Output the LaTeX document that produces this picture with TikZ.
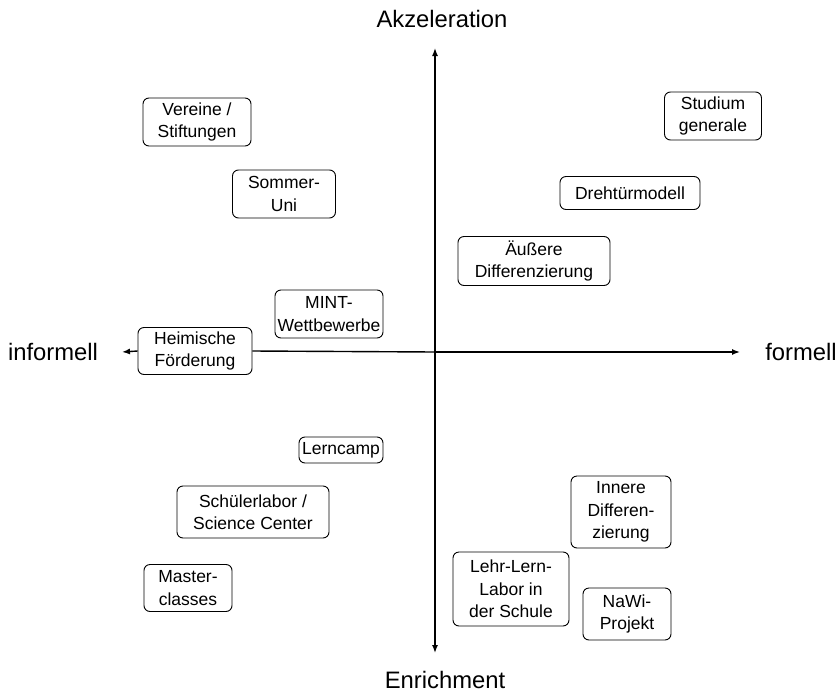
\documentclass[tikz,border=0pt]{standalone}
\usepackage{fontspec}
\setmainfont{Liberation Sans}
\usetikzlibrary{arrows.meta}
\begin{document}
\begin{tikzpicture}[x=1pt,y=-1pt,
  box/.style={draw, rounded corners=6pt, line width=0.9pt, align=center,
    font=\fontsize{17.5}{22.5}\selectfont, inner sep=0pt},
  axlabel/.style={font=\fontsize{23.8}{26}\selectfont, inner sep=0pt},
  axis/.style={line width=1.4pt, -{Latex[length=8pt,width=6pt]}}]
\useasboundingbox (0,0) rectangle (839,694);
\coordinate (c) at (435,352);
\coordinate (top) at (435,48);
\coordinate (bot) at (435,653);
\coordinate (lft) at (122,352);
\coordinate (rgt) at (740,352);
\node[axlabel] (akz) at (442,19) {Akzeleration};
\node[axlabel] (enr) at (445,680) {Enrichment};
\node[axlabel] (inf) at (53,352) {informell};
\node[axlabel] (for) at (801,352) {formell};
\draw[axis] (c) -- (top);
\draw[axis] (c) -- (bot);
\draw[axis] (c) -- (rgt);
\node[box, minimum width=114pt, minimum height=47pt] (hf) at (195,351) {Heimische\\Förderung};
\draw[axis] (hf.west) -- (lft);
\draw[line width=1.4pt] (hf.east) -- (c);
\node[box, minimum width=108pt, minimum height=48pt] (ver) at (197,122) {Vereine /\\Stiftungen};
\node[box, minimum width=103pt, minimum height=48pt] (som) at (284,194) {Sommer-\\Uni};
\node[box, minimum width=108pt, minimum height=48pt, fill=white] (mint) at (329,314) {MINT-\\Wettbewerbe};
\node[box, minimum width=84pt, minimum height=26pt] (lern) at (341,450) {Lerncamp};
\node[box, minimum width=152pt, minimum height=52pt] (sch) at (253,512) {Schülerlabor /\\Science Center};
\node[box, minimum width=88pt, minimum height=47pt] (mas) at (188,588) {Master-\\classes};
\node[box, minimum width=97pt, minimum height=48pt] (stu) at (713,116) {Studium\\generale};
\node[box, minimum width=140pt, minimum height=33pt] (dreh) at (630,193) {Drehtürmodell};
\node[box, minimum width=152pt, minimum height=49pt] (aeu) at (534,261) {Äußere\\Differenzierung};
\node[box, minimum width=100pt, minimum height=72pt] (inn) at (621,512) {Innere\\Differen-\\zierung};
\node[box, minimum width=116pt, minimum height=74pt, fill=white] (lll) at (511,589) {Lehr-Lern-\\Labor in\\der Schule};
\node[box, minimum width=88pt, minimum height=52pt] (nawi) at (627,614) {NaWi-\\Projekt};
\end{tikzpicture}
\end{document}
